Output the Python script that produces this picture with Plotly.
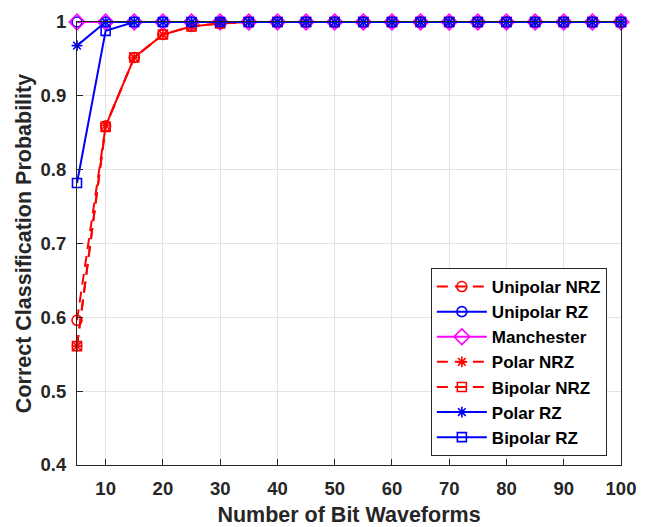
import plotly.graph_objects as go

bit_waveforms = [5, 10, 15, 20, 25, 30, 35, 40, 45, 50, 55, 60, 65, 70, 75, 80, 85, 90, 95, 100]

unipolar_nrz = [0.596, 0.859, 0.952, 0.983, 0.994, 0.998, 1.0, 1.0, 1.0, 1.0,
                1.0, 1.0, 1.0, 1.0, 1.0, 1.0, 1.0, 1.0, 1.0, 1.0]
unipolar_rz = [1.0, 1.0, 1.0, 1.0, 1.0, 1.0, 1.0, 1.0, 1.0, 1.0,
               1.0, 1.0, 1.0, 1.0, 1.0, 1.0, 1.0, 1.0, 1.0, 1.0]
manchester = [1.0, 1.0, 1.0, 1.0, 1.0, 1.0, 1.0, 1.0, 1.0, 1.0,
              1.0, 1.0, 1.0, 1.0, 1.0, 1.0, 1.0, 1.0, 1.0, 1.0]
polar_nrz = [0.561, 0.860, 0.952, 0.983, 0.994, 0.998, 1.0, 1.0, 1.0, 1.0,
             1.0, 1.0, 1.0, 1.0, 1.0, 1.0, 1.0, 1.0, 1.0, 1.0]
bipolar_nrz = [0.561, 0.858, 0.952, 0.983, 0.994, 0.998, 1.0, 1.0, 1.0, 1.0,
               1.0, 1.0, 1.0, 1.0, 1.0, 1.0, 1.0, 1.0, 1.0, 1.0]
polar_rz = [0.968, 1.0, 1.0, 1.0, 1.0, 1.0, 1.0, 1.0, 1.0, 1.0,
            1.0, 1.0, 1.0, 1.0, 1.0, 1.0, 1.0, 1.0, 1.0, 1.0]
bipolar_rz = [0.782, 0.988, 1.0, 1.0, 1.0, 1.0, 1.0, 1.0, 1.0, 1.0,
              1.0, 1.0, 1.0, 1.0, 1.0, 1.0, 1.0, 1.0, 1.0, 1.0]

x_ticks = [10, 20, 30, 40, 50, 60, 70, 80, 90, 100]
y_ticks = [0.4, 0.5, 0.6, 0.7, 0.8, 0.9, 1.0]
y_tick_labels = ["0.4", "0.5", "0.6", "0.7", "0.8", "0.9", "1"]

RED = "#FF0000"
BLUE = "#0000FF"
MAG = "#FF00FF"
DASH = "11px,7px"

series = [
    ("Unipolar NRZ", unipolar_nrz, RED, DASH, "circle-open", 10),
    ("Unipolar RZ", unipolar_rz, BLUE, "solid", "circle-open", 10),
    ("Manchester", manchester, MAG, "solid", "diamond-open", 12),
    ("Polar NRZ", polar_nrz, RED, DASH, "asterisk-open", 9),
    ("Bipolar NRZ", bipolar_nrz, RED, DASH, "square-open", 9),
    ("Polar RZ", polar_rz, BLUE, "solid", "asterisk-open", 9),
    ("Bipolar RZ", bipolar_rz, BLUE, "solid", "square-open", 9),
]

fig = go.Figure()
for name, vals, col, dash, sym, size in series:
    fig.add_trace(go.Scatter(
        x=bit_waveforms, y=vals, name=name, mode="lines+markers",
        line=dict(color=col, width=2, dash=dash),
        marker=dict(symbol=sym, size=size, color=col, line=dict(color=col, width=1.6)),
        cliponaxis=False,
    ))

FONT = "Liberation Sans, Arial, Helvetica, sans-serif"
TXT = "#262626"

fig.update_layout(
    width=652, height=527,
    margin=dict(l=77, r=31, t=22, b=62),
    plot_bgcolor="white", paper_bgcolor="white",
    font=dict(family=FONT, size=18, color=TXT, weight="bold"),
    xaxis=dict(
        range=[5, 100], tickvals=x_ticks, ticks="inside", ticklen=6,
        tickcolor=TXT, showline=True, linecolor=TXT, linewidth=1.2, mirror=True,
        showgrid=True, gridcolor="#E3E3E3", gridwidth=1, zeroline=False,
        tickfont=dict(family=FONT, size=18.5, color=TXT, weight="bold"),
        ticklabelstandoff=7, automargin=False,
        title=dict(text="Number of Bit Waveforms", standoff=25,
                   font=dict(family=FONT, size=21.5, color=TXT, weight="bold")),
    ),
    yaxis=dict(
        range=[0.4, 1.0], tickvals=y_ticks, ticktext=y_tick_labels,
        ticks="inside", ticklen=6, tickcolor=TXT,
        showline=True, linecolor=TXT, linewidth=1.2, mirror=True,
        showgrid=True, gridcolor="#E3E3E3", gridwidth=1, zeroline=False,
        tickfont=dict(family=FONT, size=18.5, color=TXT, weight="bold"),
        ticklabelstandoff=6, automargin=False,
        title=dict(text="Correct Classification Probability", standoff=2,
                   font=dict(family=FONT, size=21.5, color=TXT, weight="bold")),
    ),
    legend=dict(
        x=0.974, y=0.4447, xanchor="right", yanchor="top",
        bgcolor="white", bordercolor=TXT, borderwidth=1,
        font=dict(family=FONT, size=17, color="black", weight="bold"),
        itemwidth=50, tracegroupgap=0,
    ),
    showlegend=True,
)

fig.write_html("out.html")
